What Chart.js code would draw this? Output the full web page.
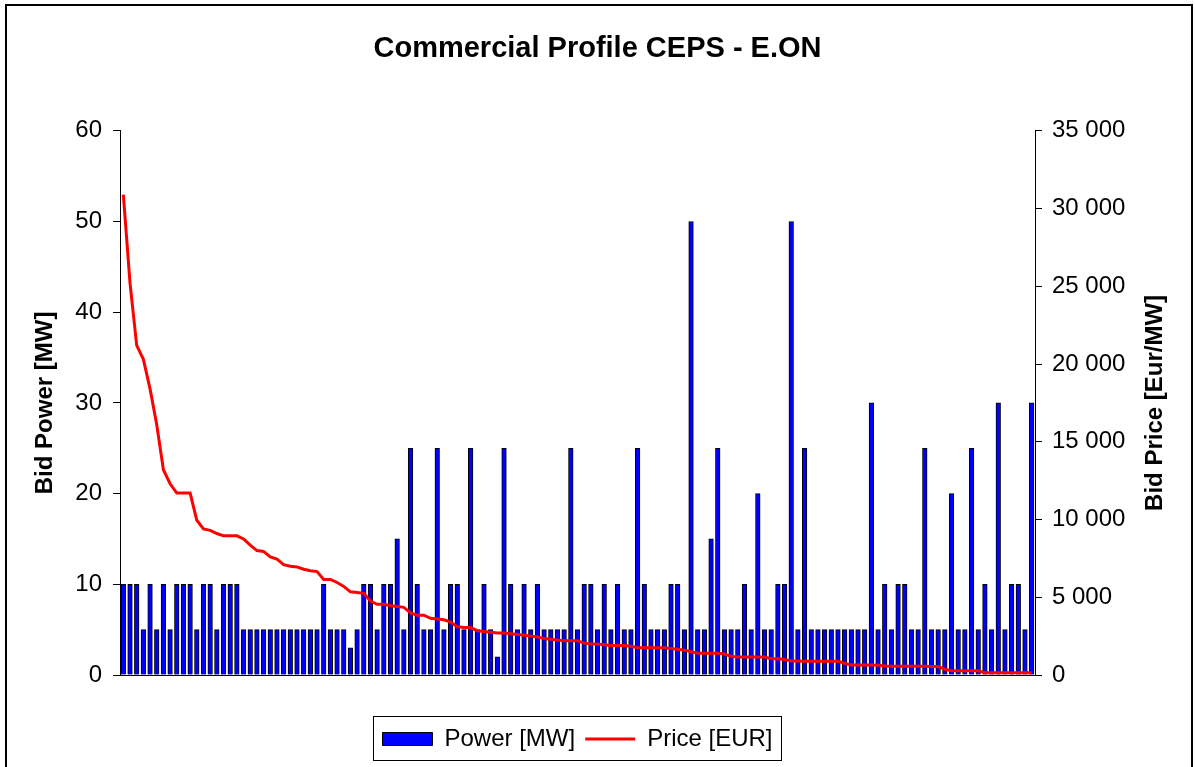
<!DOCTYPE html>
<html>
<head>
<meta charset="utf-8">
<script src="https://cdn.jsdelivr.net/npm/chart.js@4.4.1/dist/chart.umd.min.js"></script>
<style>
  body { margin: 0; background: #fff; }
  #chartBox { width: 1195px; height: 767px; position: relative; }
</style>
</head>
<body>
<div id="chartBox"><canvas id="myChart"></canvas></div>
<script>
// bid power in MW, one value per bid
var power = [
  10, 10, 10, 5, 10, 5, 10, 5, 10, 10,
  10, 5, 10, 10, 5, 10, 10, 10, 5, 5,
  5, 5, 5, 5, 5, 5, 5, 5, 5, 5,
  10, 5, 5, 5, 3, 5, 10, 10, 5, 10,
  10, 15, 5, 25, 10, 5, 5, 25, 5, 10,
  10, 5, 25, 5, 10, 5, 2, 25, 10, 5,
  10, 5, 10, 5, 5, 5, 5, 25, 5, 10,
  10, 5, 10, 5, 10, 5, 5, 25, 10, 5,
  5, 5, 10, 10, 5, 50, 5, 5, 15, 25,
  5, 5, 5, 10, 5, 20, 5, 5, 10, 10,
  50, 5, 25, 5, 5, 5, 5, 5, 5, 5,
  5, 5, 30, 5, 10, 5, 10, 10, 5, 5,
  25, 5, 5, 5, 20, 5, 5, 25, 5, 10,
  5, 30, 5, 10, 10, 5, 30
];

// bid price in Eur/MW
var price = [
  30900, 25200, 21200, 20300, 18400, 16100, 13200, 12300, 11700, 11700,
  11700, 9950, 9400, 9300, 9100, 8950, 8950, 8950, 8750, 8350,
  8000, 7950, 7600, 7450, 7100, 7000, 6950, 6800, 6700, 6650,
  6150, 6150, 5950, 5700, 5350, 5300, 5250, 4750, 4550, 4550,
  4450, 4400, 4350, 4000, 3850, 3850, 3650, 3600, 3550, 3400,
  3100, 3050, 3050, 2850, 2800, 2750, 2700, 2700, 2650, 2600,
  2550, 2500, 2450, 2350, 2300, 2250, 2200, 2200, 2200, 2050,
  2000, 2000, 1950, 1900, 1900, 1900, 1850, 1750, 1750, 1750,
  1750, 1750, 1700, 1650, 1600, 1500, 1400, 1400, 1400, 1400,
  1350, 1200, 1150, 1150, 1150, 1150, 1150, 1050, 1050, 1000,
  900, 900, 880, 880, 880, 880, 880, 880, 750, 650,
  650, 650, 650, 630, 580, 560, 560, 560, 560, 560,
  560, 550, 540, 370, 280, 280, 280, 280, 280, 150,
  150, 150, 150, 150, 150, 150, 150
];

var bidNo = power.map(function(v, i){ return i + 1; });

var powerTicks = { min: 0, max: 60, step: 10 };
var priceTicks = { min: 0, max: 35000, step: 5000 };

Chart.defaults.font.family = "'Liberation Sans', Arial, sans-serif";
Chart.defaults.color = '#000';

function spaced(v){
  return String(v).replace(/\B(?=(\d{3})+(?!\d))/g, ' ');
}

// frame, right axis title and legend border
const extras = {
  id: 'extras',
  beforeDraw(chart){
    const ctx = chart.ctx;
    ctx.save();
    ctx.fillStyle = '#fff';
    ctx.fillRect(0, 0, chart.width, chart.height);
    ctx.restore();
  },
  afterDraw(chart){
    const ctx = chart.ctx;
    const area = chart.chartArea;
    ctx.save();
    ctx.strokeStyle = '#000';
    ctx.lineWidth = 2;
    ctx.strokeRect(6, 5, 1186, 800);

    ctx.translate(1155, (area.top + area.bottom) / 2);
    ctx.rotate(-Math.PI / 2);
    ctx.fillStyle = '#000';
    ctx.font = "bold 24px 'Liberation Sans', Arial, sans-serif";
    ctx.textAlign = 'center';
    ctx.textBaseline = 'middle';
    ctx.fillText('Bid Price [Eur/MW]', 0, 0);
    ctx.restore();

    const lg = chart.legend;
    const hb = lg.legendHitBoxes;
    if (hb && hb.length) {
      const last = hb[hb.length - 1];
      const left = hb[0].left - 9;
      const right = last.left + last.width + 9;
      ctx.save();
      ctx.strokeStyle = '#000';
      ctx.lineWidth = 1;
      ctx.strokeRect(Math.round(left) + 0.5, Math.round(lg.top) - 0.5, Math.round(right - left), 44);
      ctx.restore();
    }
  }
};

const data = {
  labels: bidNo,
  datasets: [{
    type: 'bar',
    label: 'Power [MW]',
    data: power,
    backgroundColor: '#0000ff',
    borderColor: '#000',
    borderWidth: 1,
    barThickness: 4.6,
    pointStyle: 'rect',
    yAxisID: 'y',
    order: 1
  }, {
    type: 'line',
    label: 'Price [EUR]',
    data: price,
    borderColor: '#ff0000',
    backgroundColor: '#ff0000',
    borderWidth: 3,
    pointRadius: 0,
    pointStyle: 'line',
    tension: 0,
    yAxisID: 'y2',
    order: 0
  }]
};

const config = {
  type: 'bar',
  data: data,
  plugins: [extras],
  options: {
    responsive: true,
    maintainAspectRatio: false,
    animation: false,
    layout: { padding: { left: 0, right: 0, top: 0, bottom: 6 } },
    plugins: {
      title: {
        display: true,
        text: 'Commercial Profile CEPS - E.ON',
        font: { size: 29, weight: 'bold' },
        color: '#000',
        padding: { top: 32, bottom: 64 }
      },
      legend: {
        position: 'bottom',
        fullSize: false,
        labels: {
          usePointStyle: true,
          pointStyleWidth: 50,
          boxHeight: 13,
          font: { size: 24 },
          color: '#000',
          padding: 10,
          sort: function(a, b){ return a.datasetIndex - b.datasetIndex; }
        }
      },
      tooltip: { enabled: false }
    },
    scales: {
      x: {
        type: 'category',
        offset: true,
        grid: { display: false },
        ticks: { display: false },
        border: { display: true, color: '#000', width: 1 },
        afterFit: function(scale){ scale.height = 42; }
      },
      y: {
        position: 'left',
        min: powerTicks.min,
        max: powerTicks.max,
        ticks: { stepSize: powerTicks.step, padding: 11, font: { size: 24 }, color: '#000' },
        grid: { drawOnChartArea: false, drawTicks: true, tickLength: 7, color: '#000' },
        border: { display: true, color: '#000', width: 1 },
        title: {
          display: true,
          text: 'Bid Power [MW]',
          font: { size: 24, weight: 'bold' },
          color: '#000',
          padding: { top: 31, bottom: 0 }
        },
        afterFit: function(scale){ scale.width = 120; }
      },
      y2: {
        position: 'right',
        min: priceTicks.min,
        max: priceTicks.max,
        ticks: {
          stepSize: priceTicks.step, padding: 10, font: { size: 24 }, color: '#000',
          callback: function(v){ return spaced(v); }
        },
        grid: { drawOnChartArea: false, drawTicks: true, tickLength: 7, color: '#000' },
        border: { display: true, color: '#000', width: 1 },
        afterFit: function(scale){ scale.width = 160; }
      }
    }
  }
};

const myChart = new Chart(document.getElementById('myChart'), config);
</script>
</body>
</html>
